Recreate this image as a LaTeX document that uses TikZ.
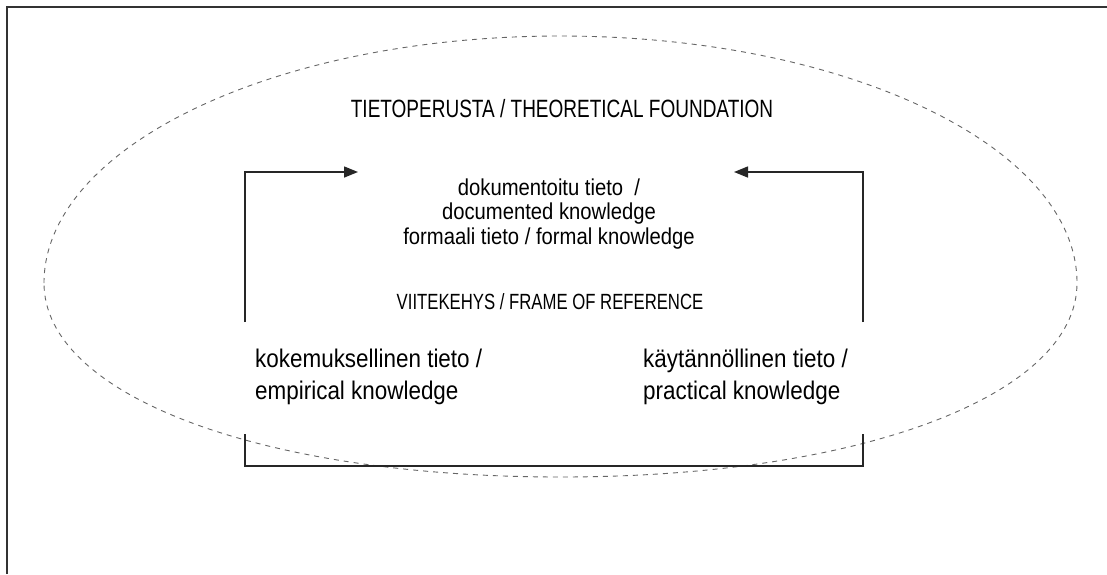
\documentclass[tikz,border=0pt]{standalone}
\usepackage{fontspec}
\setmainfont{Liberation Sans}
\newfontfamily\capfont[FakeStretch=0.76]{Liberation Sans}
\newfontfamily\lowfont[FakeStretch=0.88]{Liberation Sans}
\usetikzlibrary{arrows.meta}
\tikzset{
  frameline/.style={draw=black!80, line width=2pt},
  halo/.style={draw=black!60, line width=0.9pt, dash pattern=on 5pt off 5pt},
  flow/.style={draw=black!85, line width=1.5pt},
  flowarrow/.style={flow, -{Triangle[length=14pt,width=11pt]}},
  txt/.style={inner sep=0pt, text=black},
  midtxt/.style={txt, font=\lowfont\fontsize{23}{26}\selectfont},
  lowtxt/.style={txt, font=\lowfont\fontsize{25.5}{29}\selectfont},
  captxt/.style={txt, font=\capfont\fontsize{25}{28}\selectfont},
  captxtsmall/.style={txt, font=\capfont\fontsize{22}{26}\selectfont}
}
\begin{document}
\begin{tikzpicture}[x=1pt,y=-1pt]
\useasboundingbox (0,0) rectangle (1107,574);
\fill[white] (0,0) rectangle (1107,574);
\draw[frameline] (7,574) -- (7,7) -- (1107,7);

% egg-shaped dashed outline
\coordinate (eL) at (44,283);
\coordinate (eT) at (560.5,36);
\coordinate (eR) at (1077,283);
\coordinate (eB) at (560.5,477);
\draw[halo] (eL) .. controls (44,146.6) and (275.2,36) .. (eT)
  .. controls (845.8,36) and (1077,146.6) .. (eR)
  .. controls (1077,395.5) and (860.1,477) .. (eB)
  .. controls (260.9,477) and (44,395.5) .. (eL) -- cycle;

\node[captxt, anchor=base] (head) at (562,117) {TIETOPERUSTA / THEORETICAL FOUNDATION};
\node[midtxt, anchor=base] (doc1) at (549,195) {dokumentoitu tieto \ /};
\node[midtxt, anchor=base] (doc2) at (549,219) {documented knowledge};
\node[midtxt, anchor=base] (doc3) at (549,244) {formaali tieto / formal knowledge};
\node[captxtsmall, anchor=base] (frame) at (550,309) {VIITEKEHYS / FRAME OF REFERENCE};
\node[lowtxt, anchor=base west] (emp1) at (255,367) {kokemuksellinen tieto /};
\node[lowtxt, anchor=base west] (emp2) at (255,399) {empirical knowledge};
\node[lowtxt, anchor=base west] (pra1) at (643,367) {käytännöllinen tieto /};
\node[lowtxt, anchor=base west] (pra2) at (643,399) {practical knowledge};

\coordinate (lstart) at (245,322);
\coordinate (lcorner) at (245,172);
\coordinate (ltip) at (358,172);
\coordinate (rstart) at (863,322);
\coordinate (rcorner) at (863,172);
\coordinate (rtip) at (734,172);
\coordinate (bl1) at (245,434);
\coordinate (bl2) at (245,466);
\coordinate (br2) at (863,466);
\coordinate (br1) at (863,434);

\draw[flowarrow] (lstart) -- (lcorner) -- (ltip);
\draw[flowarrow] (rstart) -- (rcorner) -- (rtip);
\draw[flow] (bl1) -- (bl2) -- (br2) -- (br1);
\end{tikzpicture}
\end{document}
